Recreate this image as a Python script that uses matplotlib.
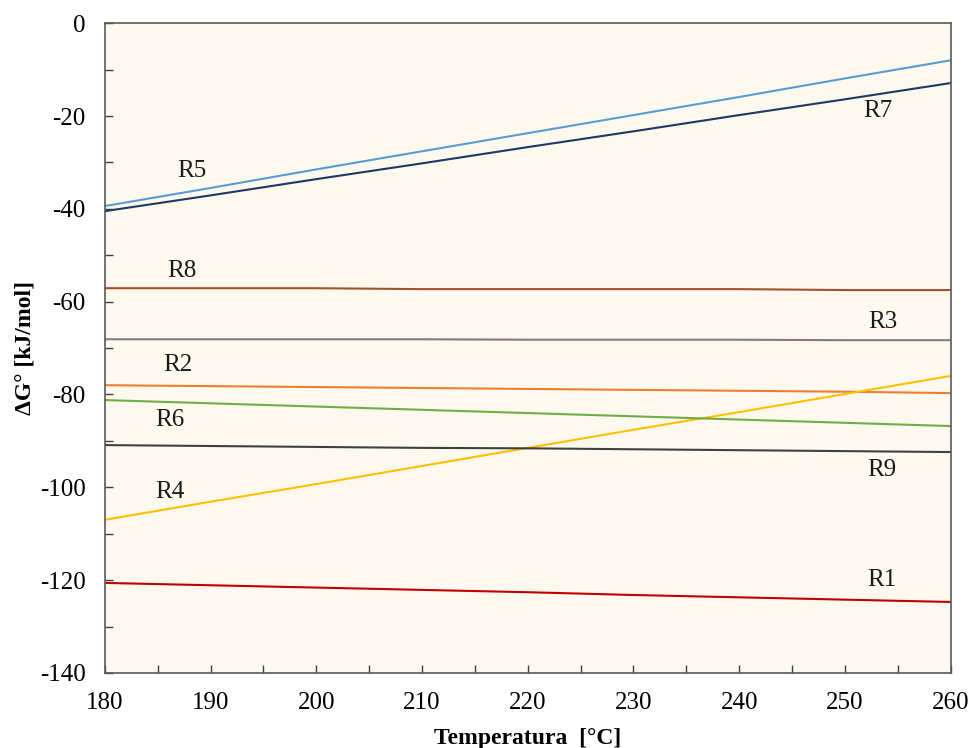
import matplotlib.pyplot as plt
from matplotlib.ticker import MultipleLocator

# temperature grid and Gibbs energies for each reaction (kJ/mol)
temp = [180, 190, 200, 210, 220, 230, 240, 250, 260]
R1 = [-120.6, -121.1, -121.6, -122.1, -122.6, -123.2, -123.7, -124.2, -124.7]
R2 = [-78.0, -78.2, -78.4, -78.6, -78.8, -79.0, -79.2, -79.4, -79.7]
R3 = [-68.1, -68.1, -68.1, -68.1, -68.2, -68.2, -68.2, -68.3, -68.3]
R4 = [-107.0, -103.1, -99.3, -95.4, -91.5, -87.6, -83.8, -79.9, -76.0]
R5 = [-39.4, -35.5, -31.5, -27.6, -23.7, -19.8, -15.9, -11.9, -8.0]
R6 = [-81.2, -81.9, -82.6, -83.3, -84.0, -84.7, -85.4, -86.1, -86.8]
R7 = [-40.5, -37.1, -33.6, -30.2, -26.7, -23.3, -19.8, -16.4, -12.9]
R8 = [-57.1, -57.1, -57.1, -57.3, -57.3, -57.3, -57.3, -57.5, -57.5]
R9 = [-90.9, -91.1, -91.3, -91.5, -91.6, -91.8, -92.0, -92.2, -92.4]

series = [
    ("R1", R1, "#c00000", (253.5, -120.0)),
    ("R2", R2, "#ed7d31", (186.9, -73.7)),
    ("R3", R3, "#7f7f7f", (253.6, -64.4)),
    ("R4", R4, "#ffc000", (186.1, -101.0)),
    ("R5", R5, "#5b9bd5", (188.2, -31.9)),
    ("R6", R6, "#70ad47", (186.1, -85.5)),
    ("R7", R7, "#1f3864", (253.1, -19.0)),
    ("R8", R8, "#a0522d", (187.3, -53.4)),
    ("R9", R9, "#404040", (253.5, -96.3)),
]

plt.rcParams['font.family'] = ['Liberation Serif', 'DejaVu Serif']
plt.rcParams['axes.unicode_minus'] = False

fig = plt.figure(figsize=(9.71, 7.48), dpi=100)
ax = fig.add_axes([0.108, 0.1003, 0.871, 0.8687])
ax.set_facecolor("#fdf9ee")

for name, vals, color, (lx, ly) in series:
    ax.plot(temp, vals, color=color, lw=1.5)
    ax.text(lx, ly, name, fontsize=18, ha="center", va="center", color="#1a1a1a")

ax.set_xlim(180, 260)
ax.set_ylim(-140, 0)
ax.xaxis.set_major_locator(MultipleLocator(10))
ax.xaxis.set_minor_locator(MultipleLocator(5))
ax.yaxis.set_major_locator(MultipleLocator(20))
ax.yaxis.set_minor_locator(MultipleLocator(10))
ax.tick_params(which="both", direction="in", length=6, width=1, color="#404040",
               labelsize=18)
ax.tick_params(axis="x", pad=14)
ax.tick_params(axis="y", pad=14)
for s in ax.spines.values():
    s.set_color("#595959")
    s.set_linewidth(1.2)

ax.set_xlabel("Temperatura  [°C]", fontsize=17, fontweight="bold", labelpad=10)
ax.set_ylabel("ΔG° [kJ/mol]", fontsize=17, fontweight="bold", labelpad=3)

plt.savefig("out.png")
